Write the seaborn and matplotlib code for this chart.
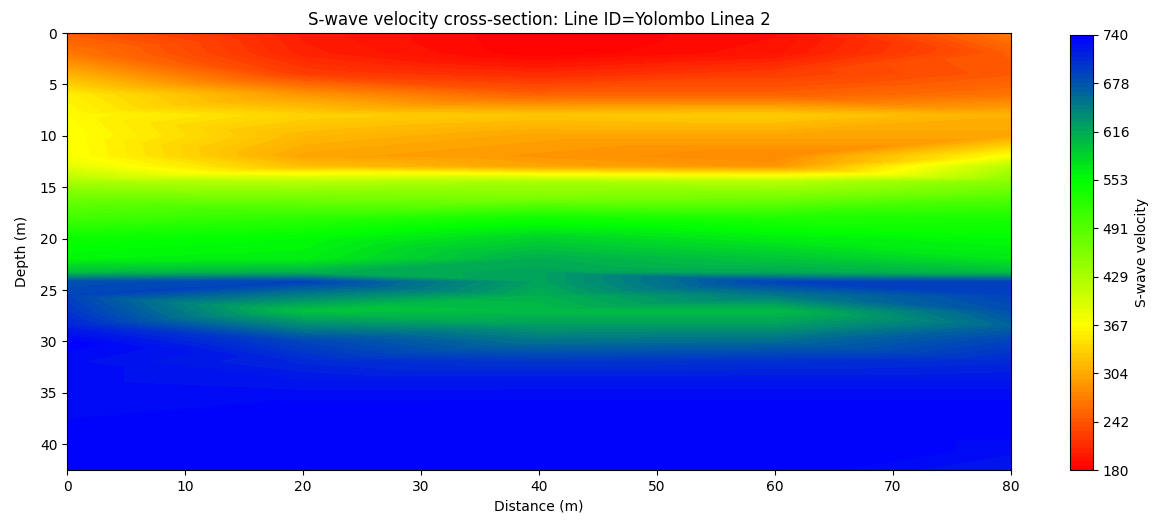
import numpy as np
import pandas as pd
import matplotlib
matplotlib.use("Agg")
import matplotlib.pyplot as plt
import seaborn as sns

# Sounding positions along the line (m) and the depths sampled at each one (m)
distances = [0, 20, 40, 60, 80]
depths = [0, 2, 4, 6, 8, 10, 12, 13, 14.5, 16, 18, 20, 22, 23.3, 24.2,
          25.5, 27, 28.5, 30, 32, 34, 36, 38, 40, 42.5]

# S-wave velocity profile (m/s) at each sounding position
vs_x0 = [245, 268, 310, 355, 365, 370, 372, 385, 430, 470, 505, 545, 560,
         600, 680, 690, 700, 715, 738, 730, 730, 732, 735, 737, 739]
vs_x20 = [200, 205, 225, 290, 335, 315, 300, 320, 420, 465, 520, 555, 565,
          610, 690, 645, 595, 640, 688, 710, 725, 735, 737, 739, 739]
vs_x40 = [180, 181, 210, 250, 325, 300, 290, 300, 430, 460, 540, 585, 612,
          620, 620, 610, 600, 625, 655, 700, 725, 736, 739, 739, 739]
vs_x60 = [190, 195, 225, 250, 330, 300, 280, 290, 420, 465, 530, 565, 595,
          615, 690, 650, 600, 625, 660, 705, 725, 736, 739, 739, 739]
vs_x80 = [270, 248, 245, 265, 310, 300, 370, 420, 455, 490, 535, 555, 570,
          600, 690, 690, 680, 665, 690, 710, 725, 736, 739, 733, 722]

profiles = [vs_x0, vs_x20, vs_x40, vs_x60, vs_x80]
vmin, vmax = 180, 740

records = []
for x, prof in zip(distances, profiles):
    for d, v in zip(depths, prof):
        records.append({"distance": x, "depth": d, "vs": v})
df = pd.DataFrame(records)

cmap = sns.blend_palette(["red", "yellow", "lime", "blue"], as_cmap=True)

fig = plt.figure(figsize=(11.6, 5.23), dpi=100)
ax = fig.add_axes([0.0578, 0.1013, 0.8138, 0.8356])
cax = fig.add_axes([0.9224, 0.1013, 0.0198, 0.8318])

levels = np.linspace(vmin, vmax, 101)
cs = ax.tricontourf(df["distance"], df["depth"], df["vs"], levels=levels,
                    cmap=cmap, vmin=vmin, vmax=vmax)
ax.set_xlim(0, 80)
ax.set_ylim(42.5, 0)
ax.set_xlabel("Distance (m)")
ax.set_ylabel("Depth (m)", labelpad=8)
ax.set_title("S-wave velocity cross-section: Line ID=Yolombo Linea 2")

cbar = fig.colorbar(cs, cax=cax, ticks=np.linspace(vmin, vmax, 10), format="%.0f")
cbar.set_label("S-wave velocity")

fig.savefig("out.png", dpi=100)
